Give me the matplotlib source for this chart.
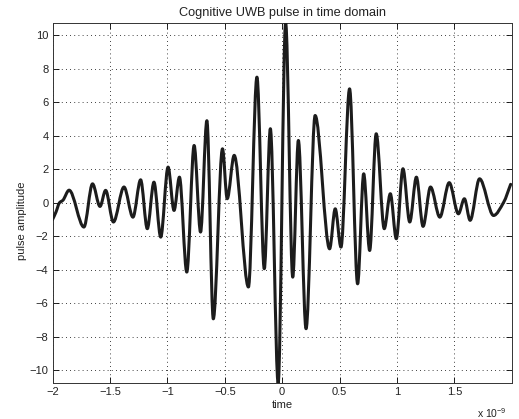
import numpy as np
import matplotlib
matplotlib.use('Agg')
import matplotlib.pyplot as plt
from matplotlib.path import Path
from matplotlib.patches import PathPatch

plt.rcParams['font.family'] = ['Liberation Sans', 'DejaVu Sans']
plt.rcParams['mathtext.fontset'] = 'custom'
plt.rcParams['mathtext.rm'] = 'Liberation Sans'
plt.rcParams['mathtext.it'] = 'Liberation Sans:italic'

# turning points of the pulse (time in ns, amplitude)
t_ns = [-2.00, -1.97, -1.94, -1.91, -1.856, -1.727, -1.652, -1.587, -1.538, -1.47,
        -1.378, -1.30, -1.233, -1.175, -1.117, -1.058, -0.994, -0.942, -0.895, -0.831,
        -0.767, -0.711, -0.656, -0.60, -0.52, -0.479, -0.418, -0.294, -0.22, -0.156,
        -0.103, -0.035, 0.03, 0.092, 0.141, 0.208, 0.287, 0.413, 0.462, 0.512,
        0.587, 0.657, 0.71, 0.762, 0.819, 0.889, 0.942, 0.994, 1.052, 1.111,
        1.169, 1.227, 1.292, 1.373, 1.455, 1.535, 1.587, 1.637, 1.719, 1.841,
        1.93, 1.99]
amp = [-1.0, -0.55, 0.0, 0.15, 0.75, -1.45, 1.13, -0.22, 0.74, -1.15,
       0.94, -0.86, 1.37, -1.55, 1.23, -2.05, 2.13, -0.46, 1.53, -4.14,
       3.42, -1.75, 4.9, -6.93, 3.22, 0.24, 2.83, -5.03, 7.5, -3.94,
       4.42, -10.78, 10.75, -4.44, 3.72, -7.52, 5.21, -2.75, -0.36, -2.65,
       6.8, -4.84, 1.73, -2.85, 4.12, -1.55, 0.54, -2.15, 2.03, -1.15,
       1.53, -1.41, 0.94, -0.86, 1.2, -0.66, 0.24, -1.05, 1.43, -0.76,
       0.04, 1.1]

x_ticks = [-2, -1.5, -1, -0.5, 0, 0.5, 1, 1.5]
x_ticklabels = ['\u22122', '\u22121.5', '\u22121', '\u22120.5', '0', '0.5', '1', '1.5']
y_ticks = [-10, -8, -6, -4, -2, 0, 2, 4, 6, 8, 10]


def smooth_path(x, y):
    # monotone cubic bezier through the turning points (flat at extrema)
    x = np.asarray(x, float)
    y = np.asarray(y, float)
    sec = np.diff(y) / np.diff(x)
    m = np.zeros_like(y)
    m[0], m[-1] = sec[0], sec[-1]
    for i in range(1, len(y) - 1):
        if sec[i - 1] * sec[i] > 0:
            m[i] = 2 / (1 / sec[i - 1] + 1 / sec[i])
    verts = [(x[0], y[0])]
    codes = [Path.MOVETO]
    for i in range(len(x) - 1):
        d = (x[i + 1] - x[i]) / 3
        verts += [(x[i] + d, y[i] + m[i] * d),
                  (x[i + 1] - d, y[i + 1] - m[i + 1] * d),
                  (x[i + 1], y[i + 1])]
        codes += [Path.CURVE4] * 3
    return Path(verts, codes)


fig = plt.figure(figsize=(5.19, 4.19), dpi=100)
ax = fig.add_axes([0.1013, 0.0852, 0.8846, 0.8606])

ax.add_patch(PathPatch(smooth_path(t_ns, amp), facecolor='none', edgecolor='#1c1c1c',
                       linewidth=2.2, joinstyle='round', capstyle='round', zorder=3))

ax.set_xlim(-2, 1.999)
ax.set_ylim(-10.78, 10.75)
ax.set_xticks(x_ticks)
ax.set_xticklabels(x_ticklabels)
ax.set_yticks(y_ticks)
ax.set_yticklabels([str(v).replace('-', '\u2212') for v in y_ticks])

ax.grid(True, color='black', linestyle=(0, (1, 4)), linewidth=0.6)
ax.tick_params(direction='in', length=4, width=0.6, top=True, right=True,
               labelsize=8, labelcolor='#222222', pad=3)
for s in ax.spines.values():
    s.set_linewidth(0.7)
    s.set_color('#333333')

ax.set_title('Cognitive UWB pulse in time domain', fontsize=9.2, color='#222222', pad=5)
ax.set_xlabel('time', fontsize=8, color='#222222', labelpad=2)
ax.set_ylabel('pulse amplitude', fontsize=8, color='#222222')
ax.yaxis.set_label_coords(-0.055, 0.45)
ax.text(0.925, -0.083, 'x 10$^{-9}$', transform=ax.transAxes, fontsize=7.5,
        color='#222222', ha='left', va='center')

fig.savefig('out.png', dpi=100)
